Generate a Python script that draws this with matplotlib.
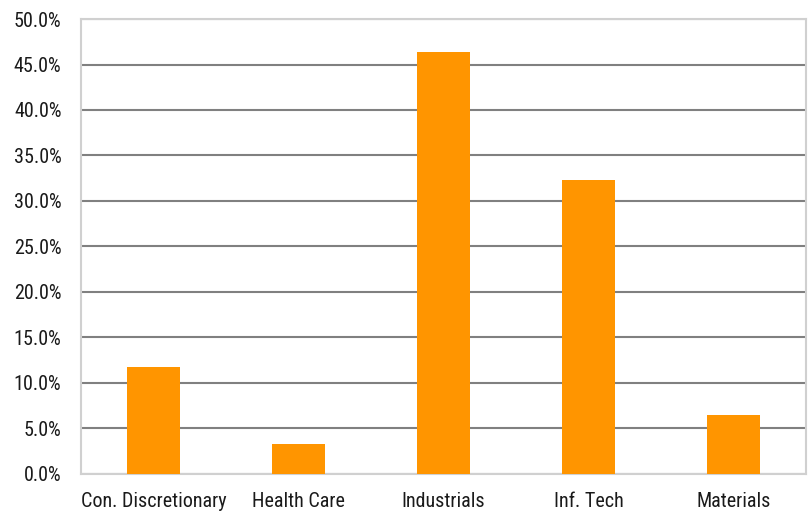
import matplotlib
matplotlib.use("Agg")
import matplotlib.pyplot as plt
from matplotlib.ticker import FuncFormatter, MultipleLocator

categories = ["Con. Discretionary", "Health Care", "Industrials", "Inf. Tech", "Materials"]
weights = [11.7, 3.3, 46.4, 32.3, 6.5]

plt.rcParams['font.family'] = ['Roboto Condensed', 'DejaVu Sans']

fig = plt.figure(figsize=(8.09, 5.14), dpi=100)
ax = fig.add_axes([0.100, 0.078, 0.8963, 0.885])

x = range(len(categories))
ax.bar(x, weights, width=0.36, color="#FF9500", zorder=3)

ax.set_xlim(-0.5, len(categories) - 0.5)
ax.set_ylim(0, 50)
ax.yaxis.set_major_locator(MultipleLocator(5))
ax.yaxis.set_major_formatter(FuncFormatter(lambda v, p: f"{v:.1f}%"))
ax.grid(axis="y", color="#808080", linewidth=1.5, zorder=1)
ax.set_xticks(list(x))
ax.set_xticklabels(categories)
ax.tick_params(axis="both", length=0, labelsize=14.5, colors="#1a1a1a")
ax.tick_params(axis="x", pad=13)
ax.tick_params(axis="y", pad=14)
for s in ax.spines.values():
    s.set_color("#d0d0d0")
    s.set_linewidth(1.5)

fig.savefig("out.png", dpi=100)
